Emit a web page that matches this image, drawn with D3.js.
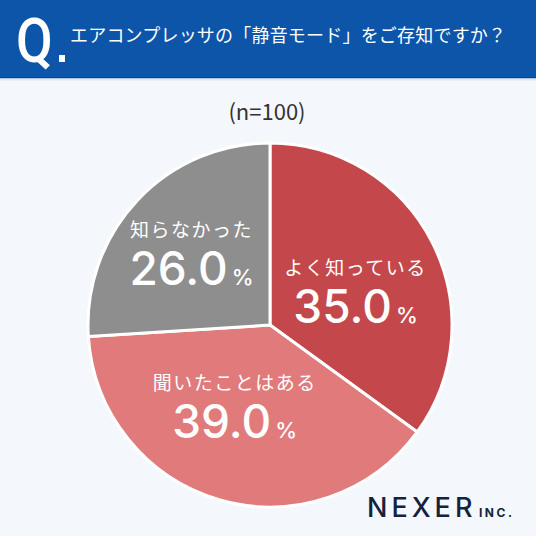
<!DOCTYPE html>
<html>
<head>
<meta charset="utf-8">
<script src="https://cdn.jsdelivr.net/npm/d3@7"></script>
<style>
  html, body { margin: 0; padding: 0; background: #f4f8fc; }
  svg { display: block; }
</style>
</head>
<body>
<div id="chart"></div>
<script>
// data
const categories = ["よく知っている", "聞いたことはある", "知らなかった"];
const values = [35.0, 39.0, 26.0];
const sampleLabel = "(n=100)";
const question = "エアコンプレッサの「静音モード」をご存知ですか？";

const colors = ["#c4484b", "#e07a7b", "#8e8e8e"];
// nudges for the text blocks, relative to the arc centroid
const labelNudge = [[-8, 6], [-6, -28], [-2, -8]];

const W = 536, H = 536;
const cx = 270, cy = 325, radius = 182;

const svg = d3.select("#chart")
    .append("svg")
    .attr("width", W)
    .attr("height", H);

svg.append("rect").attr("width", W).attr("height", H).attr("fill", "#f4f8fc");

// header band
svg.append("rect").attr("x", 0).attr("y", 0).attr("width", W).attr("height", 78).attr("fill", "#0d55a8");
svg.append("rect").attr("x", 0).attr("y", 77).attr("width", W).attr("height", 1.5).attr("fill", "#0a4690");
svg.append("rect").attr("x", 0).attr("y", 78.5).attr("width", W).attr("height", 2).attr("fill", "#dce9f7");

svg.append("text")
    .attr("x", 16).attr("y", 62)
    .attr("fill", "#fff")
    .attr("transform", "translate(16,0) scale(0.86,1) translate(-16,0)")
    .style("font-family", "Roboto, 'Noto Sans', sans-serif")
    .style("font-weight", 500)
    .style("font-size", "62px")
    .text("Q");
svg.append("rect").attr("x", 59).attr("y", 55).attr("width", 6).attr("height", 7).attr("fill", "#fff");

svg.append("text")
    .attr("x", 70).attr("y", 42)
    .attr("fill", "#fff")
    .style("font-family", "'Noto Sans CJK JP', sans-serif")
    .style("font-weight", 400)
    .style("font-size", "18px")
    .style("letter-spacing", "0.2px")
    .text(question);

svg.append("text")
    .attr("x", 267).attr("y", 120)
    .attr("text-anchor", "middle")
    .attr("fill", "#333")
    .style("font-family", "'Noto Sans CJK JP', sans-serif")
    .style("font-size", "22px")
    .text(sampleLabel);

// pie
const pie = d3.pie().sort(null).value(d => d)(values);
const arc = d3.arc().innerRadius(0).outerRadius(radius);
const labelArc = d3.arc().innerRadius(105).outerRadius(105);

const g = svg.append("g").attr("transform", `translate(${cx}, ${cy})`);

g.selectAll("path")
    .data(pie)
    .join("path")
    .attr("d", arc)
    .attr("fill", (d, i) => colors[i])
    .attr("stroke", "#fff")
    .attr("stroke-width", 3)
    .attr("stroke-linejoin", "round");

const labels = g.selectAll("g.lbl")
    .data(pie)
    .join("g")
    .attr("class", "lbl")
    .attr("transform", (d, i) => {
        const [x, y] = labelArc.centroid(d);
        return `translate(${x + labelNudge[i][0]}, ${y + labelNudge[i][1]})`;
    });

labels.append("text")
    .attr("y", -8)
    .attr("text-anchor", "middle")
    .attr("fill", "#fff")
    .style("font-family", "'Noto Sans CJK JP', sans-serif")
    .style("font-weight", 400)
    .style("font-size", "19px")
    .style("letter-spacing", "1.5px")
    .text((d, i) => categories[i]);

const num = labels.append("text")
    .attr("y", 40)
    .attr("text-anchor", "middle")
    .attr("fill", "#fff")
    .style("font-family", "Inter, 'Noto Sans', sans-serif")
    .style("font-weight", 500);
num.append("tspan")
    .style("font-size", "46px")
    .style("letter-spacing", "0px")
    .text(d => d.data.toFixed(1));
num.append("tspan")
    .attr("dx", 4)
    .style("font-size", "22px")
    .text("%");

// logo
svg.append("text")
    .attr("x", 367).attr("y", 517)
    .attr("fill", "#14223d")
    .style("font-family", "Inter, 'Noto Sans', sans-serif")
    .style("font-weight", 500)
    .style("font-size", "27px")
    .style("letter-spacing", "4px")
    .text("NEXER");
svg.append("text")
    .attr("x", 479).attr("y", 517)
    .attr("fill", "#14223d")
    .style("font-family", "Inter, 'Noto Sans', sans-serif")
    .style("font-weight", 700)
    .style("font-size", "12px")
    .style("letter-spacing", "2.5px")
    .text("INC.");
</script>
</body>
</html>
